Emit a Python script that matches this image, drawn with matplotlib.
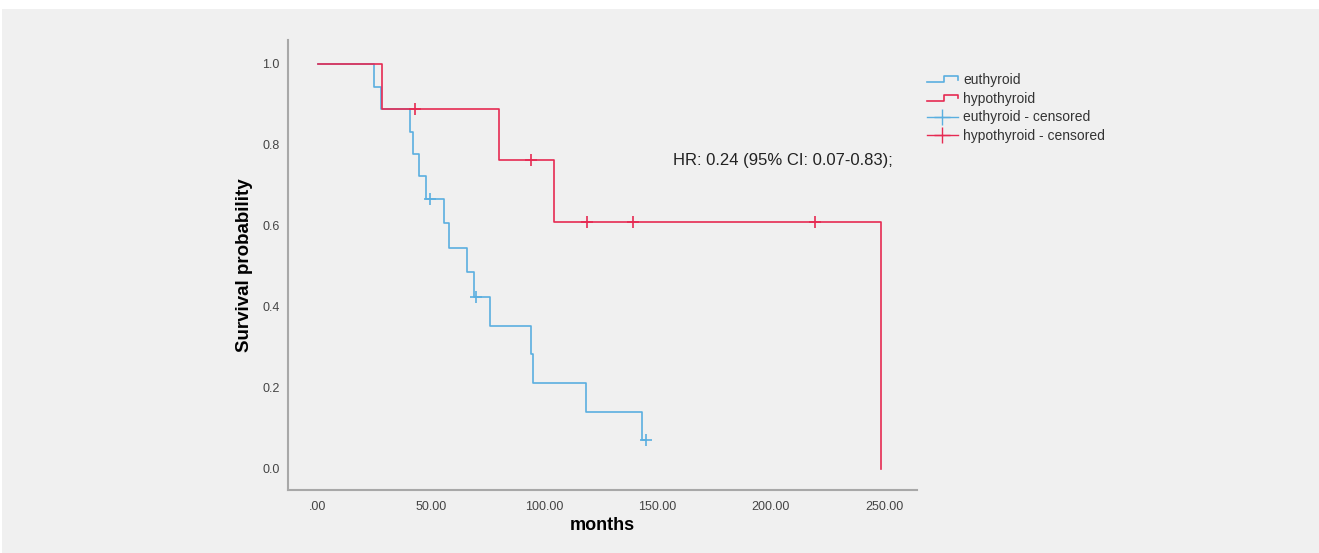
import matplotlib
matplotlib.use("Agg")
import matplotlib.pyplot as plt
from matplotlib.lines import Line2D
from matplotlib.patches import Rectangle
from matplotlib.legend_handler import HandlerBase

# ---- data ----
eu_times = [0, 24.7, 27.8, 40.6, 41.8, 44.7, 47.7, 55.8, 58.0, 65.9, 68.9, 75.9, 94.3, 95.0, 118.2, 143.3, 145.0]
eu_surv = [1.0, 0.944, 0.889, 0.833, 0.778, 0.722, 0.667, 0.606, 0.545, 0.485, 0.424, 0.354, 0.283, 0.212, 0.141, 0.071, 0.071]
eu_cens_t = [49.7, 69.8, 145.0]
eu_cens_s = [0.667, 0.424, 0.071]

hy_times = [0, 28.3, 80.0, 104.2, 248.6]
hy_surv = [1.0, 0.889, 0.762, 0.610, 0.0]
hy_cens_t = [42.8, 94.3, 119.0, 139.0, 219.4]
hy_cens_s = [0.889, 0.762, 0.610, 0.610, 0.610]

x_ticks = [0, 50, 100, 150, 200, 250]
x_tick_labels = [".00", "50.00", "100.00", "150.00", "200.00", "250.00"]
y_ticks = [0.0, 0.2, 0.4, 0.6, 0.8, 1.0]
legend_labels = ["euthyroid", "hypothyroid", "euthyroid - censored", "hypothyroid - censored"]
hr_text = "HR: 0.24 (95% CI: 0.07-0.83);"

BLUE = "#5aafe0"
RED = "#e62a52"
BG = "#f0f0f0"

plt.rcParams['font.family'] = ['Liberation Sans', 'DejaVu Sans']

W, H = 1319, 553
fig = plt.figure(figsize=(W / 100, H / 100), dpi=100)
fig.patch.set_facecolor("white")
fig.patches.append(Rectangle((2 / W, 0), 1, (H - 9) / H, transform=fig.transFigure,
                             facecolor=BG, edgecolor="none", zorder=-10))

ax = fig.add_axes([288 / W, (H - 490) / H, (917 - 288) / W, (490 - 40) / H])
ax.set_facecolor(BG)

ax.step(eu_times, eu_surv, where="post", color=BLUE, lw=1.2, zorder=2)
ax.plot(eu_cens_t, eu_cens_s, linestyle="none", marker="+", ms=8, mew=1.2, color=BLUE, zorder=3)
ax.step(hy_times, hy_surv, where="post", color=RED, lw=1.2, zorder=4)
ax.plot(hy_cens_t, hy_cens_s, linestyle="none", marker="+", ms=8, mew=1.2, color=RED, zorder=5)

ax.set_xlim(-13.2, 264.5)
ax.set_ylim(-0.052, 1.059)
ax.set_xticks(x_ticks)
ax.set_xticklabels(x_tick_labels)
ax.set_yticks(y_ticks)
ax.set_yticklabels([f"{v:.1f}" for v in y_ticks])
ax.tick_params(length=0, labelsize=9, colors="#444444", pad=8)
ax.tick_params(axis="y", pad=6)

for s in ["top", "right"]:
    ax.spines[s].set_visible(False)
for s in ["left", "bottom"]:
    ax.spines[s].set_color("#a8a8a8")
    ax.spines[s].set_linewidth(1.5)

ax.set_xlabel("months", fontsize=13, fontweight="bold", labelpad=3)
ax.set_ylabel("Survival probability", fontsize=13.5, fontweight="bold", labelpad=7)

ax.text((673 - 318) / 2.265, (469 - 161) / 405, hr_text, fontsize=12, color="#222222",
        va="center", ha="left")


class StepHandler(HandlerBase):
    def create_artists(self, legend, orig_handle, xdescent, ydescent, width, height, fontsize, trans):
        xs = [0, width * 0.55, width * 0.55, width, width]
        ys = [height * 0.15, height * 0.15, height * 0.8, height * 0.8, height * 0.45]
        l = Line2D([x - xdescent for x in xs], [y - ydescent for y in ys],
                   color=orig_handle.get_color(), lw=1.2)
        l.set_transform(trans)
        return [l]


h_eu = Line2D([], [], color=BLUE)
h_hy = Line2D([], [], color=RED)
h_euc = Line2D([0], [0], color=BLUE, lw=1.0, marker="+", ms=11, mew=1.0)
h_hyc = Line2D([0], [0], color=RED, lw=1.0, marker="+", ms=11, mew=1.0)

leg = fig.legend([h_eu, h_hy, h_euc, h_hyc], legend_labels,
                 handler_map={h_eu: StepHandler(), h_hy: StepHandler()},
                 loc="upper left", bbox_to_anchor=(920 / W, (H - 66) / H),
                 frameon=False, fontsize=10, handlelength=2.2, handletextpad=0.4,
                 labelspacing=0.34, borderpad=0)
for t in leg.get_texts():
    t.set_color("#333333")

fig.savefig("out.png", dpi=100, facecolor=fig.get_facecolor())
